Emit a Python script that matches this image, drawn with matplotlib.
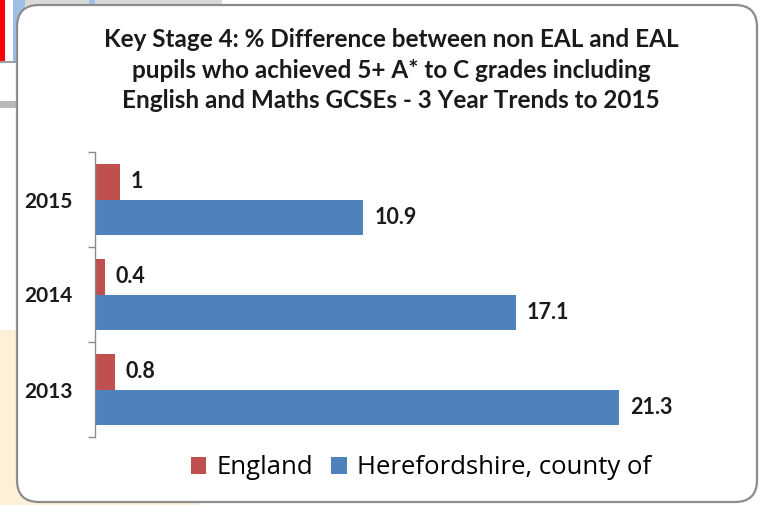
import matplotlib
matplotlib.use("Agg")
import matplotlib.pyplot as plt
from matplotlib.patches import Rectangle, FancyBboxPatch, Patch
from matplotlib.transforms import IdentityTransform

# data
years = ["2013", "2014", "2015"]
england = [0.8, 0.4, 1]
hereford = [21.3, 17.1, 10.9]
series_names = ["England", "Herefordshire, county of"]
title = ("Key Stage 4: % Difference between non EAL and EAL\n"
         "pupils who achieved 5+ A* to C grades including\n"
         "English and Maths GCSEs - 3 Year Trends to 2015")

RED = "#C0504D"
BLUE = "#4F81BD"
W, H = 760, 505

plt.rcParams['font.family'] = ['Lato', 'DejaVu Sans']

fig = plt.figure(figsize=(W / 100, H / 100), dpi=100)


def px_rect(x0, y0, x1, y1, **kw):
    # rectangle in image pixels, origin top-left
    fig.patches.append(Rectangle((x0, H - y1), x1 - x0, y1 - y0,
                                 transform=IdentityTransform(), **kw))


# bits of the screenshot around the chart box
px_rect(0, 330, 200, 505, facecolor="#FDF0D9", edgecolor="none", zorder=0)
px_rect(0, 0, 5, 62, facecolor="#FF0000", edgecolor="none", zorder=0)
px_rect(13, 0, 25, 62, facecolor="#9DBFE6", edgecolor="none", zorder=0)
px_rect(25, 0, 222, 6, facecolor="#D9D9D9", edgecolor="none", zorder=0)
px_rect(89, 0, 95, 6, facecolor="#9DBFE6", edgecolor="none", zorder=0)
px_rect(0, 61, 17, 63, facecolor="#A0A0A0", edgecolor="none", zorder=0)
px_rect(0, 101, 17, 108, facecolor="#B8B8B8", edgecolor="none", zorder=0)

box = FancyBboxPatch((17, H - 502), 740, 497,
                     boxstyle="round,pad=0,rounding_size=22",
                     transform=IdentityTransform(),
                     facecolor="white", edgecolor="#8C8C8C", linewidth=1.6,
                     zorder=1)
fig.patches.append(box)

# plot area
left, right, top, bottom = 95, 740, 152, 437
ax = fig.add_axes([left / W, (H - bottom) / H, (right - left) / W, (bottom - top) / H])
ax.set_zorder(2)
ax.patch.set_alpha(0)

pos = list(range(len(years)))
bh = 0.375
red_bars = ax.barh([p + bh / 2 for p in pos], england, height=bh, color=RED)
blue_bars = ax.barh([p - bh / 2 for p in pos], hereford, height=bh, color=BLUE)

xmax = (right - left) / 24.6
ax.set_xlim(0, xmax)
ax.set_ylim(-0.5, len(years) - 0.5)

for bars, vals in ((red_bars, england), (blue_bars, hereford)):
    for b, v in zip(bars, vals):
        ax.annotate(f"{v:g}", (b.get_width(), b.get_y() + b.get_height() / 2),
                    xytext=(8, 0), textcoords="offset points",
                    ha="left", va="center", fontsize=15.5, fontweight="bold",
                    color="#1a1a1a")

for s in ("top", "right", "bottom"):
    ax.spines[s].set_visible(False)
ax.spines["left"].set_color("#8C8C8C")
ax.spines["left"].set_linewidth(1.0)
ax.set_xticks([])
ax.set_yticks(pos)
ax.set_yticklabels(years, fontsize=15, fontweight="bold", color="#1a1a1a")
ax.tick_params(axis="y", which="major", length=0, pad=16)
ax.set_yticks([p - 0.5 for p in pos] + [len(years) - 0.5], minor=True)
ax.tick_params(axis="y", which="minor", length=5, width=1.0, color="#8C8C8C")

fig.text(391 / W, (H - 70) / H, title, ha="center", va="center",
         fontsize=17.5, fontweight="bold", linespacing=1.38, color="#1a1a1a")

handles = [Patch(facecolor=RED), Patch(facecolor=BLUE)]
fig.legend(handles, series_names, loc="center", ncol=2, frameon=False,
           bbox_to_anchor=(421 / W, (H - 468) / H),
           prop={"family": ["Open Sans", "DejaVu Sans"], "size": 18.5},
           handlelength=0.6, handleheight=0.6, handletextpad=0.4,
           columnspacing=0.7)

fig.savefig("out.png", dpi=100)
